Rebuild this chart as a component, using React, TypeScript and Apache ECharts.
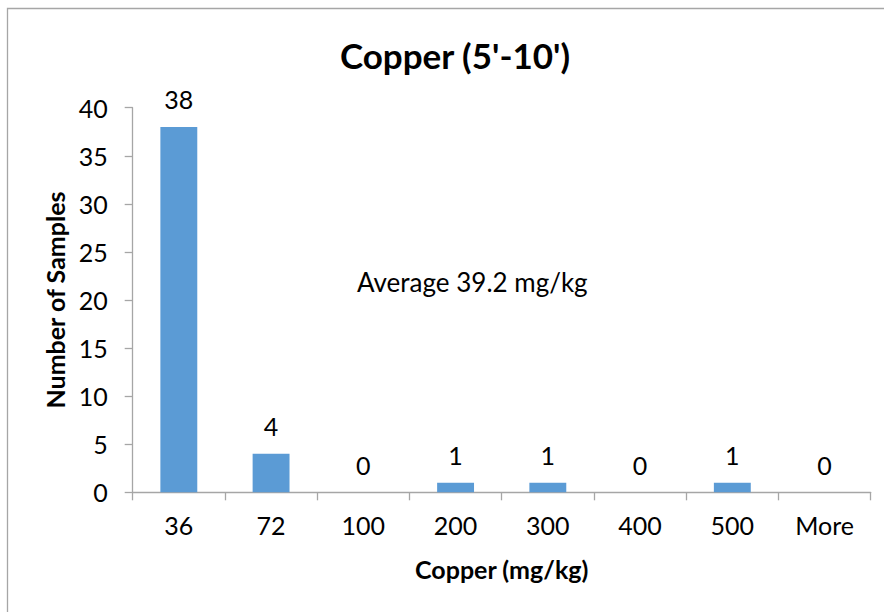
import React, { useEffect, useRef } from "react";
import * as echarts from "echarts";

const categories = ["36", "72", "100", "200", "300", "400", "500", "More"];
const counts = [38, 4, 0, 1, 1, 0, 1, 0];
const titleText = "Copper (5'-10')";
const noteText = "Average 39.2 mg/kg";
const xName = "Copper (mg/kg)";
const yName = "Number of Samples";

const FONT = "Lato, 'Open Sans', sans-serif";
const AXIS_COLOR = "#A6A6A6";

export default function App() {
  const ref = useRef<HTMLDivElement>(null);
  useEffect(() => {
    if (!ref.current) return;
    const chart = echarts.init(ref.current, undefined, { renderer: "svg" });
    chart.setOption({
      animation: false,
      backgroundColor: "#ffffff",
      textStyle: { fontFamily: FONT, color: "#000" },
      grid: { left: 132.7, right: 13.3, top: 107.7, bottom: 119.7, containLabel: false },
      xAxis: {
        type: "category",
        data: categories,
        name: xName,
        nameLocation: "middle",
        nameGap: 64,
        nameTextStyle: { fontFamily: FONT, fontSize: 25, fontWeight: "bold", color: "#000" },
        axisLine: { lineStyle: { color: AXIS_COLOR, width: 1.3 } },
        axisTick: { show: true, length: 8, lineStyle: { color: AXIS_COLOR, width: 1.3 } },
        axisLabel: { fontFamily: FONT, fontSize: 25, color: "#000", margin: 20 },
      },
      yAxis: {
        type: "value",
        min: 0,
        max: 40,
        interval: 5,
        name: yName,
        nameLocation: "middle",
        nameGap: 60,
        nameTextStyle: { fontFamily: FONT, fontSize: 25, fontWeight: "bold", color: "#000" },
        axisLine: { show: true, lineStyle: { color: AXIS_COLOR, width: 1.3 } },
        axisTick: { show: true, length: 8, lineStyle: { color: AXIS_COLOR, width: 1.3 } },
        axisLabel: { fontFamily: FONT, fontSize: 25, color: "#000", margin: 25 },
        splitLine: { show: false },
      },
      series: [
        {
          type: "bar",
          data: counts,
          barWidth: "40%",
          itemStyle: { color: "#5B9BD5" },
          label: {
            show: true,
            position: "top",
            distance: 15,
            fontFamily: FONT,
            fontSize: 25,
            color: "#000",
          },
        },
      ],
      graphic: [
        {
          type: "polyline",
          shape: { points: [[7.5, 700], [7.5, 8.5], [900, 8.5]] },
          style: { stroke: "#A6A6A6", lineWidth: 1.3, fill: null },
          silent: true,
        },
        {
          type: "text",
          x: 455,
          y: 55,
          style: {
            text: titleText,
            fontFamily: FONT,
            fontSize: 35,
            fontWeight: "bold",
            fill: "#000",
            textAlign: "center",
            textVerticalAlign: "middle",
          },
        },
        {
          type: "text",
          x: 357,
          y: 282,
          style: {
            text: noteText,
            fontFamily: FONT,
            fontSize: 26,
            fill: "#000",
            textAlign: "left",
            textVerticalAlign: "middle",
          },
        },
      ],
    });
    return () => chart.dispose();
  }, []);
  return (
    <div
      ref={ref}
      style={{ position: "absolute", left: 0, top: 0, width: 884, height: 612 }}
    />
  );
}
